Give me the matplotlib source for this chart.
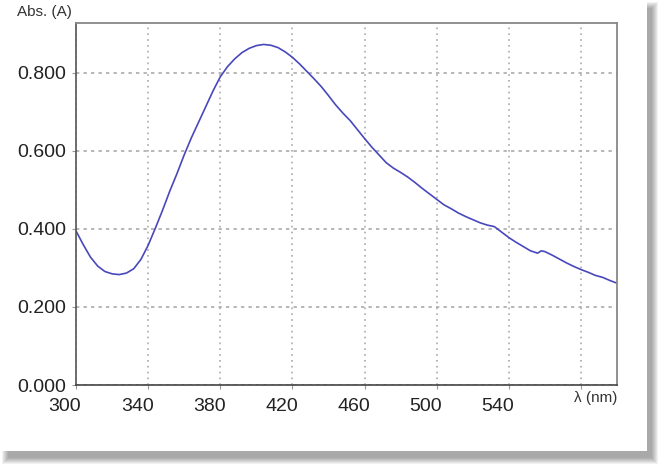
import matplotlib
matplotlib.use('Agg')
import matplotlib.pyplot as plt
from matplotlib.patches import Rectangle
from matplotlib.transforms import ScaledTranslation
import numpy as np

plt.rcParams['font.family'] = ['Liberation Sans', 'DejaVu Sans']

# absorbance spectrum
wavelength = [300, 304, 308, 312, 316, 320, 324, 328, 332, 336, 340, 344, 348,
              352, 356, 360, 364, 368, 372, 376, 380, 384, 388, 392, 396, 400,
              404, 408, 412, 416, 420, 424, 428, 432, 436, 440, 444, 448, 452,
              456, 460, 464, 468, 472, 476, 480, 484, 488, 492, 496, 500, 504,
              508, 512, 516, 520, 524, 528, 532, 536, 540, 544, 548, 552, 556,
              558, 560, 564, 568, 572, 576, 580, 584, 588, 592, 596, 600]
absorb = [0.395, 0.360, 0.328, 0.305, 0.291, 0.285, 0.283, 0.287, 0.298, 0.322,
          0.358, 0.402, 0.448, 0.497, 0.542, 0.590, 0.634, 0.674, 0.714, 0.754,
          0.790, 0.816, 0.836, 0.852, 0.863, 0.870, 0.873, 0.871, 0.865, 0.854,
          0.840, 0.823, 0.804, 0.785, 0.765, 0.742, 0.718, 0.697, 0.678, 0.655,
          0.632, 0.610, 0.590, 0.570, 0.556, 0.545, 0.533, 0.519, 0.504, 0.490,
          0.476, 0.462, 0.452, 0.441, 0.432, 0.424, 0.416, 0.410, 0.406, 0.392,
          0.378, 0.366, 0.355, 0.344, 0.338, 0.344, 0.342, 0.333, 0.323, 0.313,
          0.304, 0.296, 0.289, 0.281, 0.276, 0.268, 0.261]

x_ticks = [300, 340, 380, 420, 460, 500, 540, 580]
x_labels = ['300', '340', '380', '420', '460', '500', '540', '']
y_ticks = [0.0, 0.2, 0.4, 0.6, 0.8]

W, H = 661, 469
fig = plt.figure(figsize=(W / 100, H / 100), dpi=100)
fig.patch.set_facecolor('white')

def px(x, y):
    return x / W, 1 - y / H

# card with a soft drop shadow
for r in range(7):
    x0, y1 = px(8 - r, 458 + r)
    x1, y0 = px(652 + r, 8 - r)
    fig.patches.append(Rectangle((x0, y1), x1 - x0, y0 - y1, transform=fig.transFigure,
                                 color='black', alpha=0.055, lw=0, zorder=-3))
x0, y1 = px(0, 451)
x1, y0 = px(647, 0)
fig.patches.append(Rectangle((x0, y1), x1 - x0, y0 - y1, transform=fig.transFigure,
                             color='white', lw=0, zorder=-2))

l, b = px(76, 385)
r_, t = px(617, 23)
ax = fig.add_axes([l, b, r_ - l, t - b])
ax.plot(wavelength, absorb, color='#4848bc', lw=1.2)

ax.set_xlim(300, 600)
ax.set_ylim(0, 0.928)
ax.set_xticks(x_ticks)
ax.set_xticklabels(x_labels)
ax.set_yticks(y_ticks)
ax.set_yticklabels(['%.3f' % v for v in y_ticks])

ax.xaxis.grid(True, color='#aaaaaa', linestyle=(0, (1, 2.5)), lw=1.2)
ax.yaxis.grid(True, color='#aaaaaa', linestyle=(0, (2, 2.5)), lw=1.2)
ax.tick_params(axis='both', labelsize=14, colors='#222222', length=3, width=0.8)
ax.tick_params(axis='x', pad=6, color='#999999')
ax.tick_params(axis='y', pad=4, color='#999999')
for lab in ax.get_xticklabels():
    lab.set_transform(lab.get_transform() + ScaledTranslation(-0.11, 0, fig.dpi_scale_trans))

for side in ['top', 'right']:
    ax.spines[side].set_color('#888888')
    ax.spines[side].set_linewidth(1.3)
ax.spines['left'].set_color('#555555')
ax.spines['left'].set_linewidth(1.2)
ax.spines['bottom'].set_color('#444444')
ax.spines['bottom'].set_linewidth(1.2)
ax.spines['bottom'].set_linestyle((0, (3, 1)))

tx, ty = px(17, 12)
fig.text(tx, ty, 'Abs. (A)', fontsize=11, color='#333333', va='center', ha='left')
tx, ty = px(617, 398)
fig.text(tx, ty, 'λ (nm)', fontsize=11, color='#333333', va='center', ha='right')

fig.savefig('out.png', dpi=100)
